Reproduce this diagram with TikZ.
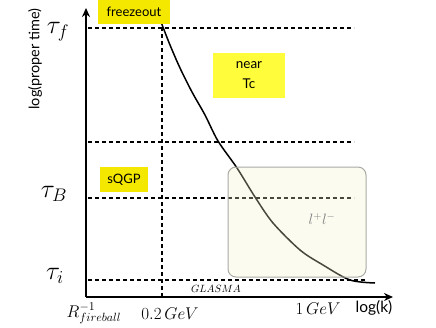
\RequirePackage{fix-cm}
\documentclass[tikz,border=0pt]{standalone}
\usepackage{fontspec}
\setsansfont{Lato}
\usetikzlibrary{arrows.meta}
\definecolor{ylwA}{RGB}{245,232,0}
\definecolor{ylwB}{RGB}{255,252,60}
\definecolor{boxfill}{RGB}{241,241,205}
\definecolor{boxline}{RGB}{170,170,165}
\begin{document}
\begin{tikzpicture}[x=1pt,y=-1pt,
  dashln/.style={line width=1.4pt,dash pattern=on 4pt off 3pt},
  axisln/.style={line width=2.2pt,-{Stealth[length=9pt,width=8pt]}},
  ylabel/.style={font=\sffamily\fontsize{13}{15}\selectfont,inner sep=2pt},
  tag/.style={ylabel,fill=#1,align=center},
  mlab/.style={font=\fontsize{26}{28}\selectfont,inner sep=0pt},
  klab/.style={font=\fontsize{17}{19}\selectfont,inner sep=0pt}]
\useasboundingbox (0,0) rectangle (436,327);
% axes
\coordinate (O) at (86,297);
\coordinate (ytop) at (86,8);
\coordinate (xend) at (393,297);
\draw[axisln] (O) -- (ytop);
\draw[axisln] (O) -- (xend);
% dashed lines
\coordinate (f0) at (88,28);  \coordinate (f1) at (354,28);
\coordinate (m0) at (88,142); \coordinate (m1) at (354,142);
\coordinate (b0) at (88,198); \coordinate (b1) at (354,198);
\coordinate (i0) at (88,280); \coordinate (i1) at (367,280);
\coordinate (v0) at (162,20); \coordinate (v1) at (162,297);
\draw[dashln] (f0) -- (f1);
\draw[dashln] (m0) -- (m1);
\draw[dashln] (b0) -- (b1);
\draw[dashln] (i0) -- (i1);
\draw[dashln] (v0) -- (v1);
% curve
\draw[line width=1.5pt,line join=round] plot[smooth,tension=0.5] coordinates {(161,22) (170,45) (180,68) (192,92) (205,115) (218,141) (237,168) (255,197) (273,223) (300,250) (323,265) (350,280) (375,283)};
% region box (translucent, over the lines)
\node[draw=boxline,line width=1pt,fill=boxfill,fill opacity=0.3,draw opacity=1,rounded corners=8pt,minimum width=138pt,minimum height=110pt,inner sep=0pt] (lbox) at (297,222) {};
\node[text=gray,font=\fontsize{15}{17}\selectfont,inner sep=0pt] (ll) at (322,219) {$l^{+}l^{-}$};
% tags
\node[tag=ylwA,minimum width=72pt,minimum height=24pt] (fz) at (134,12) {freezeout};
\node[tag=ylwB,minimum width=72pt,minimum height=45pt,font=\sffamily\fontsize{13.5}{20}\selectfont] (nt) at (249,75.5) {near\\Tc};
\node[tag=ylwA,minimum width=48pt,minimum height=25pt] (sq) at (124,179.5) {sQGP};
% y label
\node[ylabel,font=\sffamily\fontsize{14.5}{16}\selectfont,rotate=90] (yl) at (35,59) {log(proper time)};
% tau labels
\node[mlab] (tf) at (58,32) {$\tau_f$};
\node[mlab] (tb) at (54,194) {$\tau_B$};
\node[mlab] (ti) at (55,276) {$\tau_i$};
% x labels
\node[klab] (rf) at (94,313) {$R^{-1}_{fireball}$};
\node[klab] (g2) at (170,314) {$0.2\,GeV$};
\node[klab] (g1) at (318,309) {$1\,GeV$};
\node[ylabel,font=\sffamily\fontsize{15.5}{17}\selectfont,inner sep=0pt] (lk) at (374,308) {log(k)};
\node[font=\fontsize{10.5}{12}\selectfont,inner sep=0pt] (gl) at (216,289) {$GLASMA$};
\end{tikzpicture}
\end{document}
